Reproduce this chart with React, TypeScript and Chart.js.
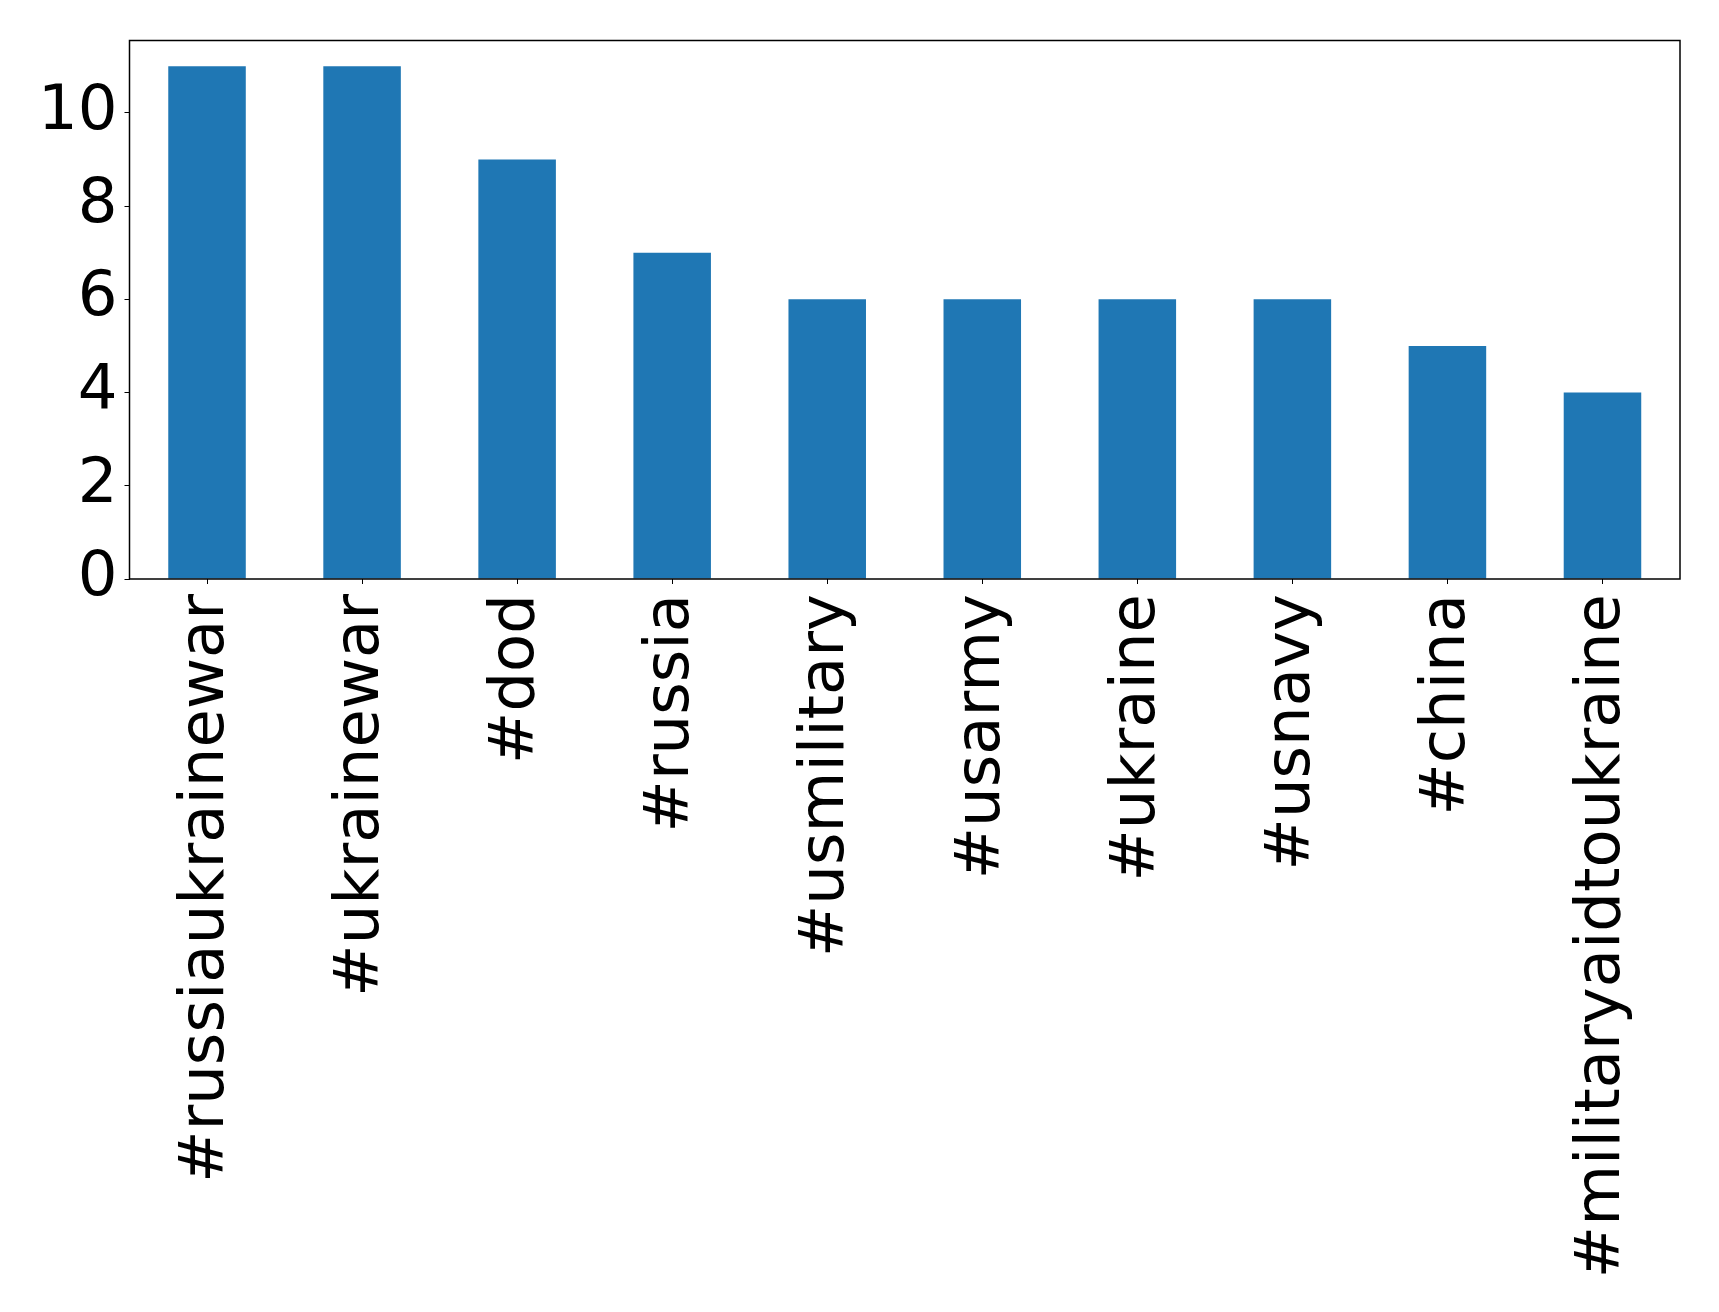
import React, { useEffect, useRef } from "react";
import { Chart, registerables } from "chart.js";

Chart.register(...registerables);

const categories = [
  "#russiaukrainewar",
  "#ukrainewar",
  "#dod",
  "#russia",
  "#usmilitary",
  "#usarmy",
  "#ukraine",
  "#usnavy",
  "#china",
  "#militaryaidtoukraine",
];
const counts = [11, 11, 9, 7, 6, 6, 6, 6, 5, 4];
const yTicks = [0, 2, 4, 6, 8, 10];

const framePlugin = {
  id: "frame",
  afterDraw(chart: any) {
    const { ctx, chartArea } = chart;
    ctx.save();
    ctx.strokeStyle = "#000";
    ctx.lineWidth = 1.5;
    ctx.strokeRect(
      chartArea.left,
      chartArea.top,
      chartArea.right - chartArea.left,
      chartArea.bottom - chartArea.top
    );
    ctx.restore();
  },
};

export default function App() {
  const ref = useRef<HTMLCanvasElement>(null);
  useEffect(() => {
    document.body.style.margin = "0";
    const font = { family: "DejaVu Sans", size: 62.5 };
    const chart = new Chart(ref.current!, {
      type: "bar",
      data: {
        labels: categories,
        datasets: [
          {
            data: counts,
            backgroundColor: "#1f77b4",
            categoryPercentage: 1,
            barPercentage: 0.5,
          },
        ],
      },
      options: {
        animation: false,
        responsive: false,
        layout: { padding: { top: 40.5, right: 39, left: 0, bottom: 0 } },
        plugins: { legend: { display: false }, tooltip: { enabled: false } },
        scales: {
          x: {
            offset: true,
            grid: {
              display: true,
              offset: false,
              drawOnChartArea: false,
              drawTicks: true,
              tickLength: 5,
              color: "#000",
            },
            border: { display: false },
            ticks: {
              color: "#000",
              font,
              minRotation: 90,
              maxRotation: 90,
              padding: 10,
              autoSkip: false,
            },
            afterFit(scale: any) {
              scale.height = 733;
              scale.paddingLeft = 0;
              scale.paddingRight = 0;
            },
          },
          y: {
            min: 0,
            max: 11.55,
            grid: {
              display: true,
              drawOnChartArea: false,
              drawTicks: true,
              tickLength: 5,
              color: "#000",
            },
            border: { display: false },
            ticks: { color: "#000", font, padding: 7 },
            afterBuildTicks(scale: any) {
              scale.ticks = yTicks.map((v) => ({ value: v }));
            },
            afterFit(scale: any) {
              scale.width = 129.5;
              scale.paddingTop = 0;
              scale.paddingBottom = 0;
            },
          },
        },
      },
      plugins: [framePlugin],
    });
    return () => chart.destroy();
  }, []);
  return (
    <div style={{ width: 1719, height: 1312, background: "#fff" }}>
      <canvas ref={ref} width={1719} height={1312} style={{ display: "block" }} />
    </div>
  );
}
